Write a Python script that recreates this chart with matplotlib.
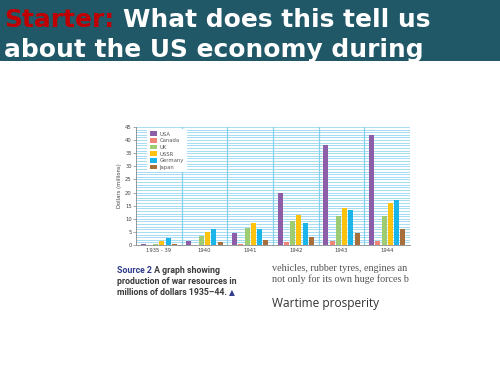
import matplotlib
matplotlib.use("Agg")
import matplotlib.pyplot as plt
from matplotlib.patches import Rectangle
import numpy as np

# ---- data ----
periods = ["1935 - 39", "1940", "1941", "1942", "1943", "1944"]
countries = ["USA", "Canada", "UK", "USSR", "Germany", "Japan"]
usa = [0.5, 1.5, 4.5, 20, 38, 42]
canada = [0.1, 0.1, 0.5, 1, 1.5, 1.5]
uk = [0.5, 3.5, 6.5, 9, 11, 11]
ussr = [1.5, 5, 8.5, 11.5, 14, 16]
germany = [2.5, 6, 6, 8.5, 13.5, 17]
japan = [0.5, 1, 2, 3, 4.5, 6]
series = [usa, canada, uk, ussr, germany, japan]
colors = ["#8E5DA8", "#F08575", "#9DCC72", "#FFC20E", "#1CB5EA", "#A66F3C"]

W, H = 500, 375
fig = plt.figure(figsize=(5, 3.75), dpi=100)
fig.patch.set_facecolor("white")

def fx(px):
    return px / W

def fy(py):
    return 1 - py / H

# ---- banner ----
fig.patches.append(Rectangle((0, fy(61)), 1, 61 / H, transform=fig.transFigure,
                             facecolor="#215868", edgecolor="none", zorder=0))
tkw = dict(fontsize=17.9, fontweight="bold", family="DejaVu Sans", va="baseline", zorder=2)
fig.text(fx(4), fy(27), "Starter:", color="#C00000", **tkw)
fig.text(fx(123), fy(27), "What does this tell us", color="white", **tkw)
fig.text(fx(4), fy(57), "about the US economy during", color="white", **tkw)

# ---- chart ----
ax = fig.add_axes([fx(136), fy(245), (410 - 136) / W, (245 - 127) / H])
x = np.arange(len(periods))
pitch = 0.136
bw = 0.11
for i, (vals, c, name) in enumerate(zip(series, colors, countries)):
    ax.bar(x + (i - 2.5) * pitch, vals, width=bw, color=c, label=name, zorder=3)

ax.set_xlim(-0.5, len(periods) - 0.5)
ax.set_ylim(0, 45)
for yv in range(1, 46):
    ax.axhline(yv, color="#A6DCF3", lw=0.7, zorder=1)
for xv in np.arange(0.5, len(periods) - 0.5, 1):
    ax.axvline(xv, color="#86CFEE", lw=0.9, zorder=1)

ax.set_yticks(range(0, 46, 5))
ax.set_xticks(x)
ax.set_xticklabels(periods)
ax.tick_params(axis="y", labelsize=3.8, length=2, width=0.5, colors="#888888", labelcolor="#444444", pad=1)
ax.tick_params(axis="x", labelsize=3.8, length=0, labelcolor="#444444", pad=2)
for s in ["top", "right"]:
    ax.spines[s].set_visible(False)
for s in ["left", "bottom"]:
    ax.spines[s].set_color("#888888")
    ax.spines[s].set_linewidth(0.6)
ax.set_ylabel("Dollars (millions)", fontsize=3.8, color="#444444", labelpad=2)

leg = ax.legend(loc="upper left", bbox_to_anchor=(0.04, 0.985), fontsize=3.8,
                frameon=True, fancybox=False, handlelength=1.4, handleheight=1.0,
                labelspacing=0.28, borderpad=0.5, handletextpad=0.5, borderaxespad=0)
leg.get_frame().set_facecolor("white")
leg.get_frame().set_edgecolor("none")
leg.get_frame().set_alpha(1)
for t in leg.get_texts():
    t.set_color("#555555")
leg.set_zorder(5)

# ---- caption ----
cfam = ["Roboto", "DejaVu Sans"]
ckw = dict(fontsize=6.3, fontweight="bold", family=cfam, va="baseline")
s1 = fig.text(fx(117), fy(273), "Source 2", color="#2E3A8C", **ckw)
fig.canvas.draw()
r = fig.canvas.get_renderer()
bb = s1.get_window_extent(r)
fig.text(bb.x1 / W, fy(273), " A graph showing", color="#3A3A3A", **ckw)
fig.text(fx(117), fy(284), "production of war resources in", color="#3A3A3A", **ckw)
s3 = fig.text(fx(117), fy(295), "millions of dollars 1935\u201344. ", color="#3A3A3A", **ckw)
fig.canvas.draw()
bb3 = s3.get_window_extent(r)
fig.text(bb3.x1 / W, fy(295), "\u25B2", color="#2E3A8C", fontsize=5.5, family=cfam, va="baseline")

# ---- right-hand text ----
skw = dict(fontsize=7.3, family="Liberation Serif", color="#555555", va="baseline")
fig.text(fx(272), fy(271), "vehicles, rubber tyres, engines an", **skw)
fig.text(fx(272), fy(282), "not only for its own huge forces b", **skw)
fig.text(fx(272), fy(307), "Wartime prosperity", fontsize=8.6, family="Open Sans",
         color="#333333", va="baseline")

fig.savefig("out.png", dpi=100, facecolor="white")
